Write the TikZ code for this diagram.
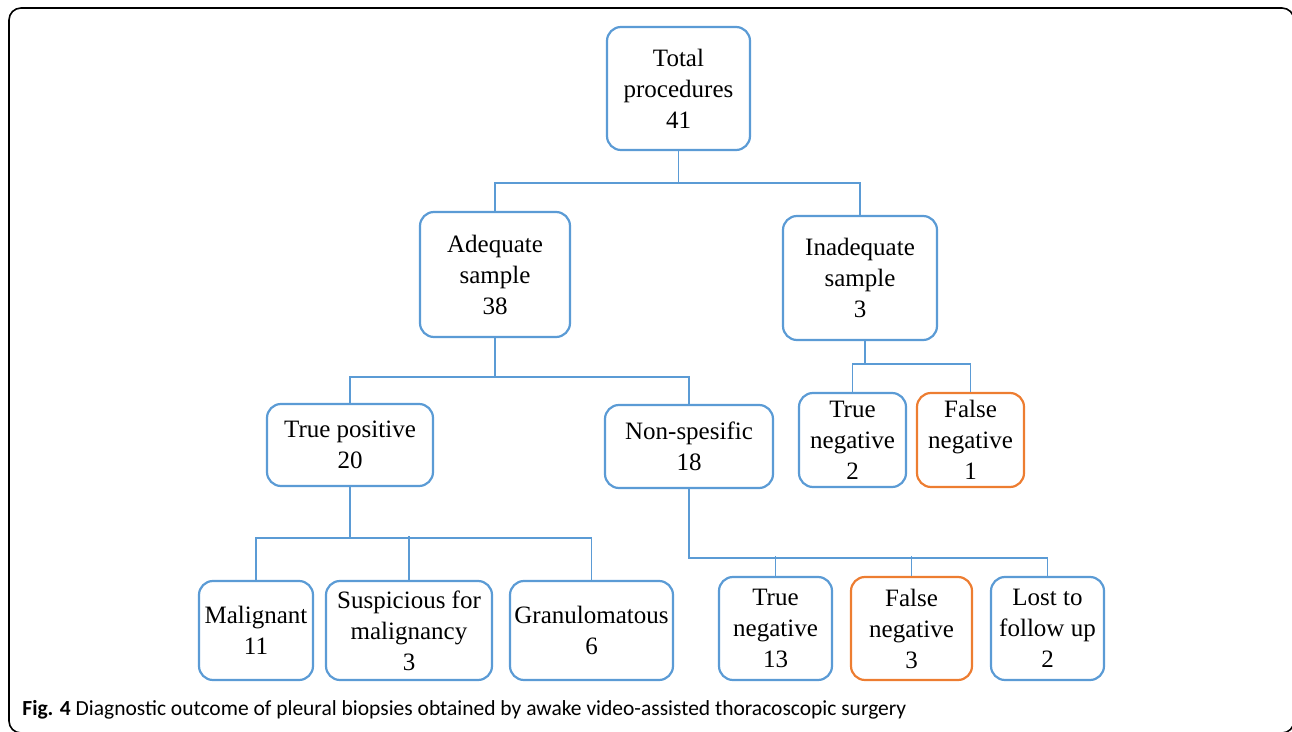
\documentclass[tikz,border=0pt]{standalone}
\usepackage{fontspec}
\setmainfont{Liberation Serif}
\newfontfamily\capfont{Carlito}
\definecolor{boxblue}{RGB}{91,155,213}
\definecolor{boxorange}{RGB}{237,125,49}
\begin{document}
\begin{tikzpicture}[x=0.5pt, y=-0.5pt,
    box/.style = {shape=rectangle, draw=boxblue, line width=1.1pt, rounded corners=7pt,
        align=center, inner sep=1pt, font=\fontsize{12.5}{15.5}\selectfont},
    falsebox/.style = {box, draw=boxorange},
    link/.style = {draw=boxblue, line width=0.6pt}]
    \useasboundingbox (0,0) rectangle (1292,732);
    \begin{scope}
        \clip (0,0) rectangle (1292,732);
        \draw[line width=0.8pt, rounded corners=6pt] (9,8) rectangle (1294,733);
    \end{scope}
    % level 0 and 1
    \node[box, minimum width=71.5pt, minimum height=61.5pt] (total) at (678.5,88.5) {Total\\procedures\\41};
    \node[box, minimum width=75pt, minimum height=62.5pt] (adeq) at (495,274.5) {Adequate\\sample\\38};
    \node[box, minimum width=77pt, minimum height=62pt] (inadeq) at (860,278) {Inadequate\\sample\\3};
    % level 2
    \node[box, minimum width=83pt, minimum height=41pt] (truepos) at (350,445) {True positive\\20};
    \node[box, minimum width=84pt, minimum height=41.5pt] (nonspec) at (689,446.5) {Non-spesific\\18};
    \node[box, minimum width=53.5pt, minimum height=47pt] (trueneg) at (852.5,440) {True\\negative\\2};
    \node[falsebox, minimum width=53.5pt, minimum height=47pt] (falseneg) at (970.5,440) {False\\negative\\1};
    % level 3
    \node[box, minimum width=57pt, minimum height=49.5pt] (malig) at (256,630.5) {Malignant\\11};
    \node[box, minimum width=83pt, minimum height=49.5pt] (suspic) at (409,630.5) {Suspicious for\\malignancy\\3};
    \node[box, minimum width=81.5pt, minimum height=49.5pt] (granul) at (591.5,630.5) {Granulomatous\\6};
    \node[box, minimum width=56.5pt, minimum height=51.5pt] (nstrueneg) at (775.5,628.5) {True\\negative\\13};
    \node[falsebox, minimum width=60.5pt, minimum height=51.5pt] (nsfalseneg) at (911.5,628.5) {False\\negative\\3};
    \node[box, minimum width=56.5pt, minimum height=51.5pt] (lost) at (1047.5,628.5) {Lost to\\follow up\\2};
    % connectors
    \path[link] (total.south) -- ++(0,32) -| (adeq.north)
        (total.south) -- ++(0,32) -| (inadeq.north);
    \path[link] (adeq.south) -- ++(0,39) -| (truepos.north)
        (adeq.south) -- ++(0,39) -| (nonspec.north);
    \path[link] ([xshift=2.5pt]inadeq.south) -- ++(0,23) -| (trueneg.north)
        ([xshift=2.5pt]inadeq.south) -- ++(0,23) -| (falseneg.north);
    \path[link] (truepos.south) -- ++(0,51) -| (malig.north)
        (truepos.south) -- ++(0,51) -| (granul.north)
        (suspic.north) -- ++(0,-44);
    \path[link] (nonspec.south) -- ++(0,69) -| (lost.north)
        (nstrueneg.north) -- ++(0,-20)
        (nsfalseneg.north) -- ++(0,-20);
    % caption
    \node[anchor=west, inner sep=0pt, font=\capfont\fontsize{10.75}{13}\selectfont] (caption) at (22,710)
        {\textbf{Fig. 4} Diagnostic outcome of pleural biopsies obtained by awake video-assisted thoracoscopic surgery};
\end{tikzpicture}
\end{document}
